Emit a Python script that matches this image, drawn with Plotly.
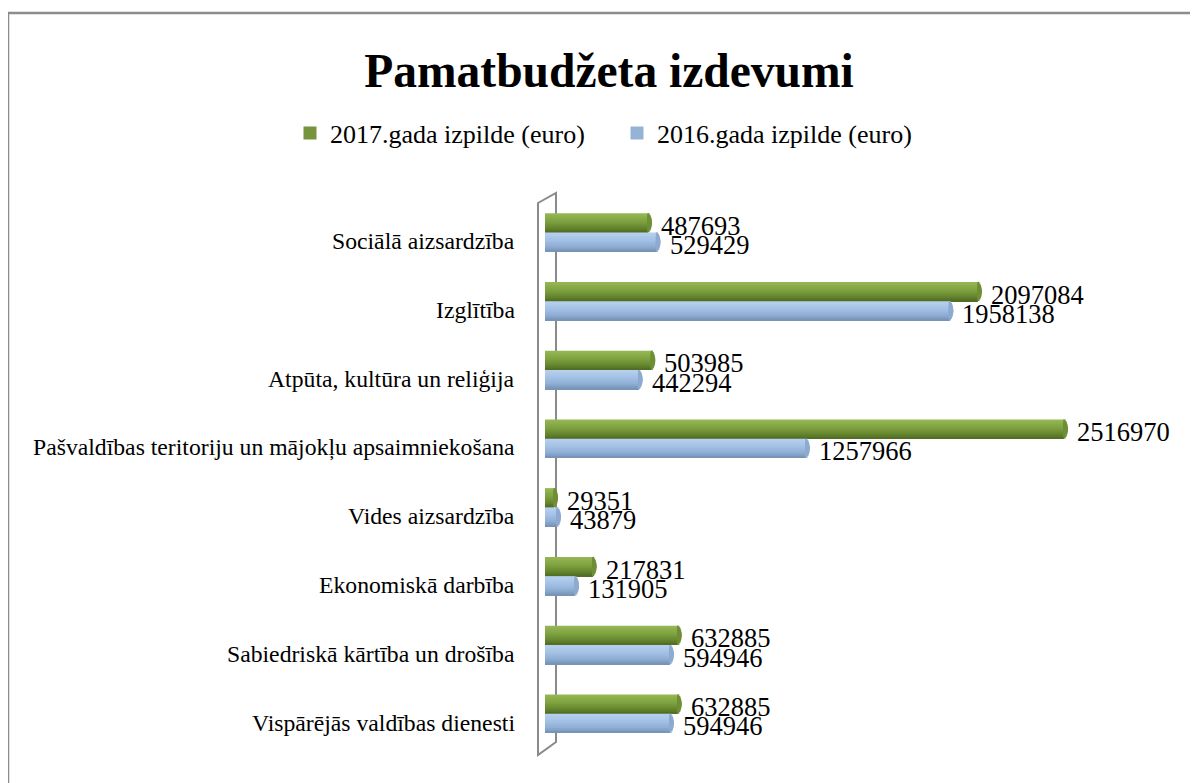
import plotly.graph_objects as go

# ---------------- data ----------------
categories = [
    "Vispārējās valdības dienesti",
    "Sabiedriskā kārtība un drošība",
    "Ekonomiskā darbība",
    "Vides aizsardzība",
    "Pašvaldības teritoriju un mājokļu apsaimniekošana",
    "Atpūta, kultūra un reliģija",
    "Izglītība",
    "Sociālā aizsardzība",
]
values_2017 = [632885, 632885, 217831, 29351, 2516970, 503985, 2097084, 487693]
values_2016 = [594946, 594946, 131905, 43879, 1257966, 442294, 1958138, 529429]
series_names = ["2017.gada izpilde (euro)", "2016.gada izpilde (euro)"]
title_text = "Pamatbudžeta izdevumi"

# ---------------- geometry / style ----------------
FIG_W, FIG_H = 1198, 783
OFF = 8                            # page body margin
L, R, T, B = 535, 43, 190, 43
PW = FIG_W - L - R
PH = FIG_H - T - B
K = 2.05e-4                        # px per euro
X0 = -5 / K
X1 = X0 + PW / K
FONT = "Liberation Serif, Times New Roman, serif"

def px_x(p):      # viewport px -> paper x
    return (p - OFF - L) / PW

def px_y(p):      # viewport px (from top) -> paper y
    return (FIG_H - B - (p - OFF)) / PH

def cx(p):        # viewport px -> container x
    return (p - OFF) / FIG_W

def cy(p):
    return 1 - (p - OFF) / FIG_H

def hex2rgb(h):
    h = h.lstrip("#")
    return tuple(int(h[i:i + 2], 16) for i in (0, 2, 4))

def mix(stops, t):
    n = len(stops) - 1
    pos = t * n
    i = min(int(pos), n - 1)
    f = pos - i
    a, b = hex2rgb(stops[i]), hex2rgb(stops[i + 1])
    c = [round(a[k] + (b[k] - a[k]) * f) for k in range(3)]
    return "rgb(%d,%d,%d)" % tuple(c)

# colours bottom -> top
green_stops = ["#4E6A22", "#67872F", "#7A9C3D", "#89AC49", "#97B955"]
blue_stops = ["#7490B3", "#8DACD2", "#9EBCE1", "#ABC7E9", "#B8D1EE"]
green_cap = "#6F8F35"
blue_cap = "#8EAACF"

THICK = 0.28
NB = 12
CAP_PX = 4.0
NCAP = 6

fig = go.Figure()

# legend entries (one legend box per series, positioned like the reference)
fig.add_trace(go.Scatter(x=[None], y=[None], mode="markers", name=series_names[0],
                         marker=dict(symbol="square", size=13, color="#77933C",
                                     line=dict(width=0)),
                         showlegend=True, legend="legend"))
fig.add_trace(go.Scatter(x=[None], y=[None], mode="markers", name=series_names[1],
                         marker=dict(symbol="square", size=13, color="#95B3D7",
                                     line=dict(width=0)),
                         showlegend=True, legend="legend2"))

ypos = list(range(len(categories)))
start = -CAP_PX * 0.75 / K

for vals, stops, capcol, off0 in [(values_2017, green_stops, green_cap, 0.0),
                                  (values_2016, blue_stops, blue_cap, -THICK)]:
    h = THICK / NB
    # cylinder body: cumulative bands from the bottom, drawn top band first
    for j in range(NB - 1, -1, -1):
        tc = (j + 0.5) / NB
        fig.add_trace(go.Bar(
            y=ypos, x=[v - start for v in vals], base=[start] * len(vals),
            orientation="h", width=(j + 1) * h, offset=off0,
            marker=dict(color=mix(stops, tc), line=dict(width=0)),
            showlegend=False, hoverinfo="skip"))
    # elliptical end cap: centred rectangles, tallest first
    for m in range(NCAP):
        frac = 1 - m / NCAP
        clen = CAP_PX * (1 - (frac * 0.92) ** 2) ** 0.5 / K + 0.6 / K
        hh = THICK * frac
        fig.add_trace(go.Bar(
            y=ypos, x=[clen] * len(vals), base=[v - 0.6 / K for v in vals],
            orientation="h", width=hh, offset=off0 + (THICK - hh) / 2,
            marker=dict(color=capcol, line=dict(width=0)),
            showlegend=False, hoverinfo="skip"))

annotations = []
for i, c in enumerate(categories):
    annotations.append(dict(
        x=0, xref="paper", y=i, yref="y", text=c, showarrow=False,
        xanchor="right", yanchor="middle", xshift=-26, yshift=-9,
        font=dict(family=FONT, size=23.7, color="#000000")))
for vals, dy in [(values_2017, THICK / 2), (values_2016, -THICK / 2)]:
    for i, v in enumerate(vals):
        annotations.append(dict(
            x=v, xref="x", y=i + dy, yref="y", text=str(v), showarrow=False,
            xanchor="left", yanchor="middle", xshift=CAP_PX + 7, yshift=-3,
            font=dict(family=FONT, size=26.5, color="#000000")))

shapes = []
shapes.append(dict(type="path", xref="paper", yref="paper",
                   path="M %f,%f L %f,%f L %f,%f L %f,%f Z" % (
                       px_x(538), px_y(203), px_x(556), px_y(193),
                       px_x(556), px_y(742), px_x(538), px_y(755)),
                   line=dict(color="#8A8A8A", width=2), fillcolor="rgba(0,0,0,0)",
                   layer="below"))
shapes.append(dict(type="line", xref="paper", yref="paper",
                   x0=px_x(8), y0=px_y(13), x1=px_x(1215), y1=px_y(13),
                   line=dict(color="#8C8C8C", width=2.5)))
shapes.append(dict(type="line", xref="paper", yref="paper",
                   x0=px_x(8), y0=px_y(13), x1=px_x(8), y1=px_y(800),
                   line=dict(color="#8C8C8C", width=2.5)))

legend_common = dict(orientation="h", xref="container", yref="container",
                     xanchor="left", yanchor="middle", traceorder="normal",
                     font=dict(family=FONT, size=26, color="#000000"),
                     bgcolor="rgba(0,0,0,0)")

fig.update_layout(
    width=FIG_W, height=FIG_H,
    margin=dict(l=L, r=R, t=T, b=B, autoexpand=False),
    paper_bgcolor="white", plot_bgcolor="rgba(0,0,0,0)",
    barmode="overlay",
    title=dict(text="<b>" + title_text + "</b>", x=cx(609), xanchor="center",
               xref="container", y=cy(70), yanchor="middle", yref="container",
               font=dict(family=FONT, size=47.5, color="#000000")),
    legend=dict(x=cx(290), y=cy(133), **legend_common),
    legend2=dict(x=cx(617), y=cy(133), **legend_common),
    xaxis=dict(range=[X0, X1], visible=False, showgrid=False, zeroline=False),
    yaxis=dict(range=[-0.5, len(categories) - 0.5], showgrid=False, zeroline=False,
               showticklabels=False, ticks=""),
    annotations=annotations,
    shapes=shapes,
    showlegend=True,
)

fig.write_html("out.html")
